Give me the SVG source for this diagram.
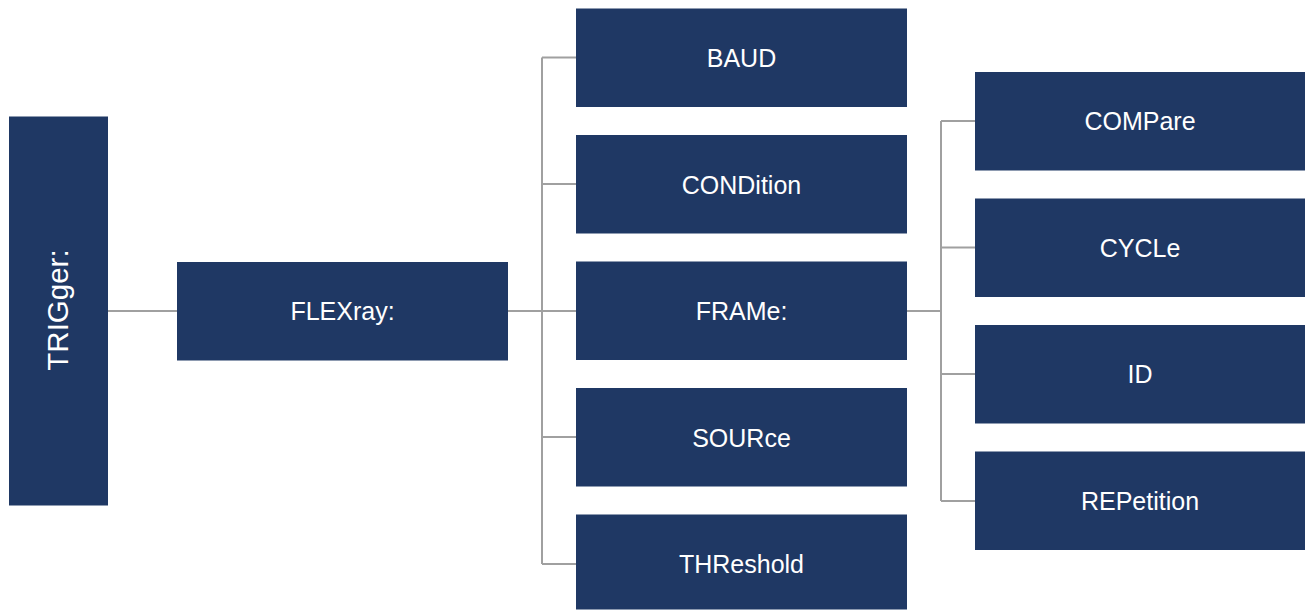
<svg xmlns="http://www.w3.org/2000/svg" width="1307" height="611" viewBox="0 0 1307 611">
<style>
.box{fill:#1f3864;}
.lbl{font-family:"Liberation Sans",Arial,sans-serif;font-size:25px;fill:#ffffff;text-anchor:middle;}
.big{font-size:29.5px;}
.conn{stroke:#a0a0a0;stroke-width:2;fill:none;}
</style>
<rect width="1307" height="611" fill="#ffffff"/>
<g id="connectors">
<path class="conn" d="M108 311 H177"/>
<path class="conn" d="M508 311 H576"/>
<path class="conn" d="M542 57.5 V564 M542 57.5 H576 M542 184 H576 M542 437 H576 M542 564 H576"/>
<path class="conn" d="M907 311 H941"/>
<path class="conn" d="M941 121 V501 M941 121 H975 M941 247.5 H975 M941 374 H975 M941 501 H975"/>
</g>
<g id="node-trigger">
<rect class="box" x="9" y="116.5" width="99" height="389"/>
<text class="lbl big" transform="translate(68 310) rotate(-90)">TRIGger:</text>
</g>
<g id="node-flexray">
<rect class="box" x="177" y="262" width="331" height="98.5"/>
<text class="lbl" x="342.5" y="319.5">FLEXray:</text>
</g>
<g id="node-baud">
<rect class="box" x="576" y="8.5" width="331" height="98.5"/>
<text class="lbl" x="741.5" y="67">BAUD</text>
</g>
<g id="node-condition">
<rect class="box" x="576" y="135" width="331" height="98.5"/>
<text class="lbl" x="741.5" y="193.5">CONDition</text>
</g>
<g id="node-frame">
<rect class="box" x="576" y="261.5" width="331" height="98.5"/>
<text class="lbl" x="741.5" y="320">FRAMe:</text>
</g>
<g id="node-source">
<rect class="box" x="576" y="388" width="331" height="98.5"/>
<text class="lbl" x="741.5" y="446.5">SOURce</text>
</g>
<g id="node-threshold">
<rect class="box" x="576" y="514.5" width="331" height="95"/>
<text class="lbl" x="741.5" y="573">THReshold</text>
</g>
<g id="node-compare">
<rect class="box" x="975" y="72" width="330" height="98.5"/>
<text class="lbl" x="1140" y="130">COMPare</text>
</g>
<g id="node-cycle">
<rect class="box" x="975" y="198.5" width="330" height="98.5"/>
<text class="lbl" x="1140" y="256.5">CYCLe</text>
</g>
<g id="node-id">
<rect class="box" x="975" y="325" width="330" height="98.5"/>
<text class="lbl" x="1140" y="383">ID</text>
</g>
<g id="node-repetition">
<rect class="box" x="975" y="451.5" width="330" height="98.5"/>
<text class="lbl" x="1140" y="509.5">REPetition</text>
</g>
</svg>
